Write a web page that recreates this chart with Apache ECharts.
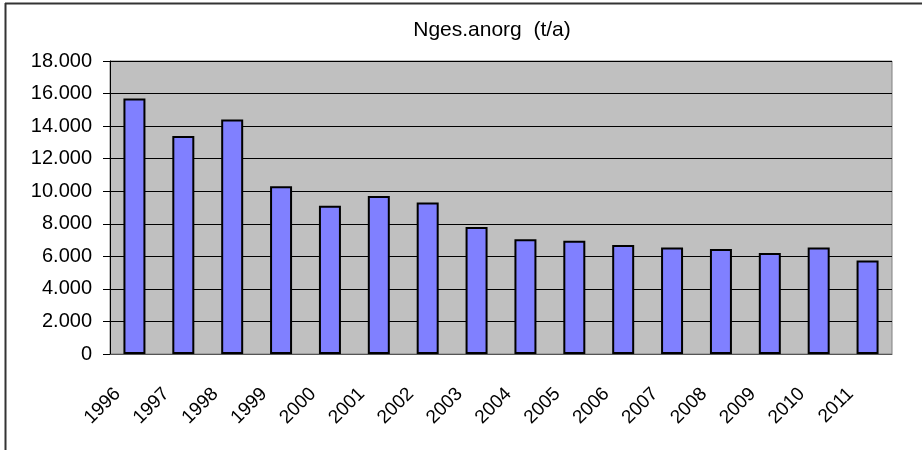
<!DOCTYPE html>
<html>
<head>
<meta charset="utf-8">
<script src="https://cdn.jsdelivr.net/npm/echarts@6/dist/echarts.min.js"></script>
<style>
  html, body { margin: 0; padding: 0; background: #fff; }
  #chart { width: 922px; height: 450px; }
</style>
</head>
<body>
<div id="chart"></div>
<script>
var years = ["1996", "1997", "1998", "1999", "2000", "2001", "2002", "2003",
  "2004", "2005", "2006", "2007", "2008", "2009", "2010", "2011"];
var values = [15700, 13400, 14400, 10300, 9100, 9700, 9300, 7800,
  7050, 6950, 6700, 6550, 6450, 6200, 6550, 5750];
var yMin = 0;
var yMax = 18000;
var yStep = 2000;

function dots(v) {
  return String(v).replace(/\B(?=(\d{3})+(?!\d))/g, ".");
}

var myChart = echarts.init(document.getElementById("chart"));

myChart.setOption({
  animation: false,
  textStyle: { fontFamily: "Liberation Sans, Arial, sans-serif" },
  title: {
    text: "Nges.anorg  (t/a)",
    left: 487,
    textAlign: "center",
    top: 15,
    textStyle: { fontSize: 21, fontWeight: "normal", color: "#000" },
  },
  graphic: [
    { type: "line", shape: { x1: 5, y1: 3.5, x2: 922, y2: 3.5 }, style: { stroke: "#333", lineWidth: 2 } },
    { type: "line", shape: { x1: 5.5, y1: 3, x2: 5.5, y2: 450 }, style: { stroke: "#333", lineWidth: 2 } },
  ],
  grid: {
    left: 110,
    right: 30,
    top: 61,
    bottom: 96,
    show: true,
    backgroundColor: "#C0C0C0",
    borderColor: "#808080",
    borderWidth: 1,
  },
  xAxis: {
    type: "category",
    data: years,
    boundaryGap: true,
    axisLine: { lineStyle: { color: "#555", width: 1 } },
    axisTick: { length: 6, lineStyle: { color: "#000" } },
    axisLabel: {
      rotate: 45,
      margin: 20,
      fontSize: 19,
      color: "#000",
      padding: [0, 24, 0, 0],
    },
  },
  yAxis: {
    type: "value",
    min: yMin,
    max: yMax,
    interval: yStep,
    axisLine: { show: true, lineStyle: { color: "#000", width: 1 } },
    axisTick: { show: true, length: 7, lineStyle: { color: "#000" } },
    axisLabel: {
      margin: 18,
      fontSize: 20,
      color: "#000",
      formatter: dots,
    },
    splitLine: { show: true, lineStyle: { color: "#000", width: 1 } },
  },
  series: [
    {
      name: "Nges.anorg",
      type: "bar",
      data: values,
      barWidth: "45%",
      itemStyle: { color: "#8080FF", borderColor: "#000", borderWidth: 2 },
    },
  ],
});
</script>
</body>
</html>
